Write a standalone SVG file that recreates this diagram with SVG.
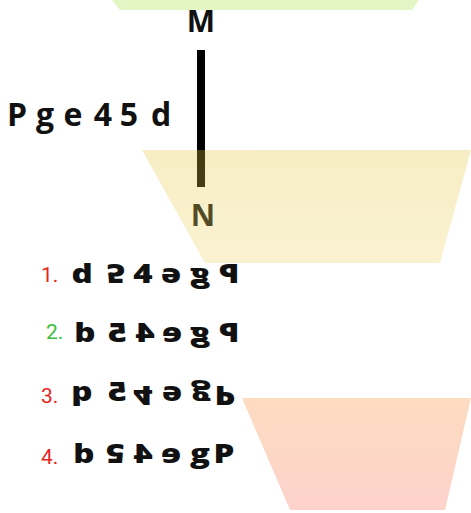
<svg xmlns="http://www.w3.org/2000/svg" width="471" height="513" viewBox="0 0 471 513">
<style>
.lbl{font-family:"Open Sans","DejaVu Sans",sans-serif;font-weight:700;fill:#111}
.ch{font-family:"Open Sans","DejaVu Sans",sans-serif;font-weight:800;font-size:30px;text-anchor:middle;fill:#111}
.num{font-family:Roboto,"Liberation Sans",sans-serif;font-size:21px}
.red{fill:#e8241e}
.grn{fill:#3cbf3c}
</style>
<defs>
<linearGradient id="gy" x1="0" y1="0" x2="0" y2="1">
<stop offset="0" stop-color="#e6c43c"/><stop offset="1" stop-color="#eed466"/>
</linearGradient>
<linearGradient id="gr" x1="0" y1="0" x2="0" y2="1">
<stop offset="0" stop-color="#fddcc0"/><stop offset="1" stop-color="#fdd2cc"/>
</linearGradient>
</defs>
<rect width="471" height="513" fill="#ffffff"/>
<g id="bands">
<polygon points="112,0 419,0 412,10 120,10" fill="#e4f6c4"/>
<polygon points="242,398 471,398 445,510 290,510" fill="url(#gr)"/>
</g>
<g id="label">
<text class="lbl" font-size="32" text-anchor="middle" x="17 45 73 103 129 161" y="126">Pge45d</text>
</g>
<g id="connectors">
<rect x="197" y="50" width="8" height="137" fill="#000"/>
</g>
<g id="M"><text class="lbl" font-size="30" text-anchor="middle" x="201" y="32">M</text></g>
<g id="N"><text class="lbl" font-size="30" text-anchor="middle" x="203" y="226">N</text></g>
<polygon id="yellow" points="142,150 471,150 440,263 205,263" fill="url(#gy)" opacity="0.3"/>
<g id="opt1">
<text class="num red" x="41" y="282">1.</text>
<text class="ch" transform="translate(82,283) scale(1.1,0.9)">d</text>
<text class="ch" transform="translate(116,263.7) scale(1.1,-0.9)">5</text>
<text class="ch" transform="translate(143,283) scale(1.1,0.9)">4</text>
<text class="ch" transform="translate(171,268.3) scale(-1.1,-0.9)">e</text>
<text class="ch" transform="translate(200,283) scale(-1.1,0.9)">g</text>
<text class="ch" transform="translate(229,283) scale(-1.1,0.9)">P</text>
</g>
<g id="opt2">
<text class="num grn" x="46" y="339">2.</text>
<text class="ch" transform="translate(85,342) scale(-1.1,0.9)">d</text>
<text class="ch" transform="translate(117,342) scale(-1.1,0.9)">5</text>
<text class="ch" transform="translate(145,342) scale(-1.1,0.9)">4</text>
<text class="ch" transform="translate(172,342) scale(-1.1,0.9)">e</text>
<text class="ch" transform="translate(200,342) scale(-1.1,0.9)">g</text>
<text class="ch" transform="translate(229,342) scale(-1.1,0.9)">P</text>
</g>
<g id="opt3">
<text class="num red" x="41" y="403">3.</text>
<text class="ch" transform="translate(82,386.3) scale(-1.1,-0.9)">d</text>
<text class="ch" transform="translate(117,401) scale(-1.1,0.9)">5</text>
<text class="ch" transform="translate(143,386.3) scale(1.1,-0.9)">4</text>
<text class="ch" transform="translate(172,386.3) scale(-1.1,-0.9)">e</text>
<text class="ch" transform="translate(201,386.3) scale(1.1,-0.9)">g</text>
<text class="ch" transform="translate(225,386.3) scale(1.1,-0.9)">P</text>
</g>
<g id="opt4">
<text class="num red" x="41" y="464">4.</text>
<text class="ch" transform="translate(84,463) scale(-1.1,0.9)">d</text>
<text class="ch" transform="translate(115,443.7) scale(-1.1,-0.9)">5</text>
<text class="ch" transform="translate(143,463) scale(-1.1,0.9)">4</text>
<text class="ch" transform="translate(171,463) scale(-1.1,0.9)">e</text>
<text class="ch" transform="translate(200,463) scale(1.1,0.9)">g</text>
<text class="ch" transform="translate(224,463) scale(1.1,0.9)">P</text>
</g>
</svg>
